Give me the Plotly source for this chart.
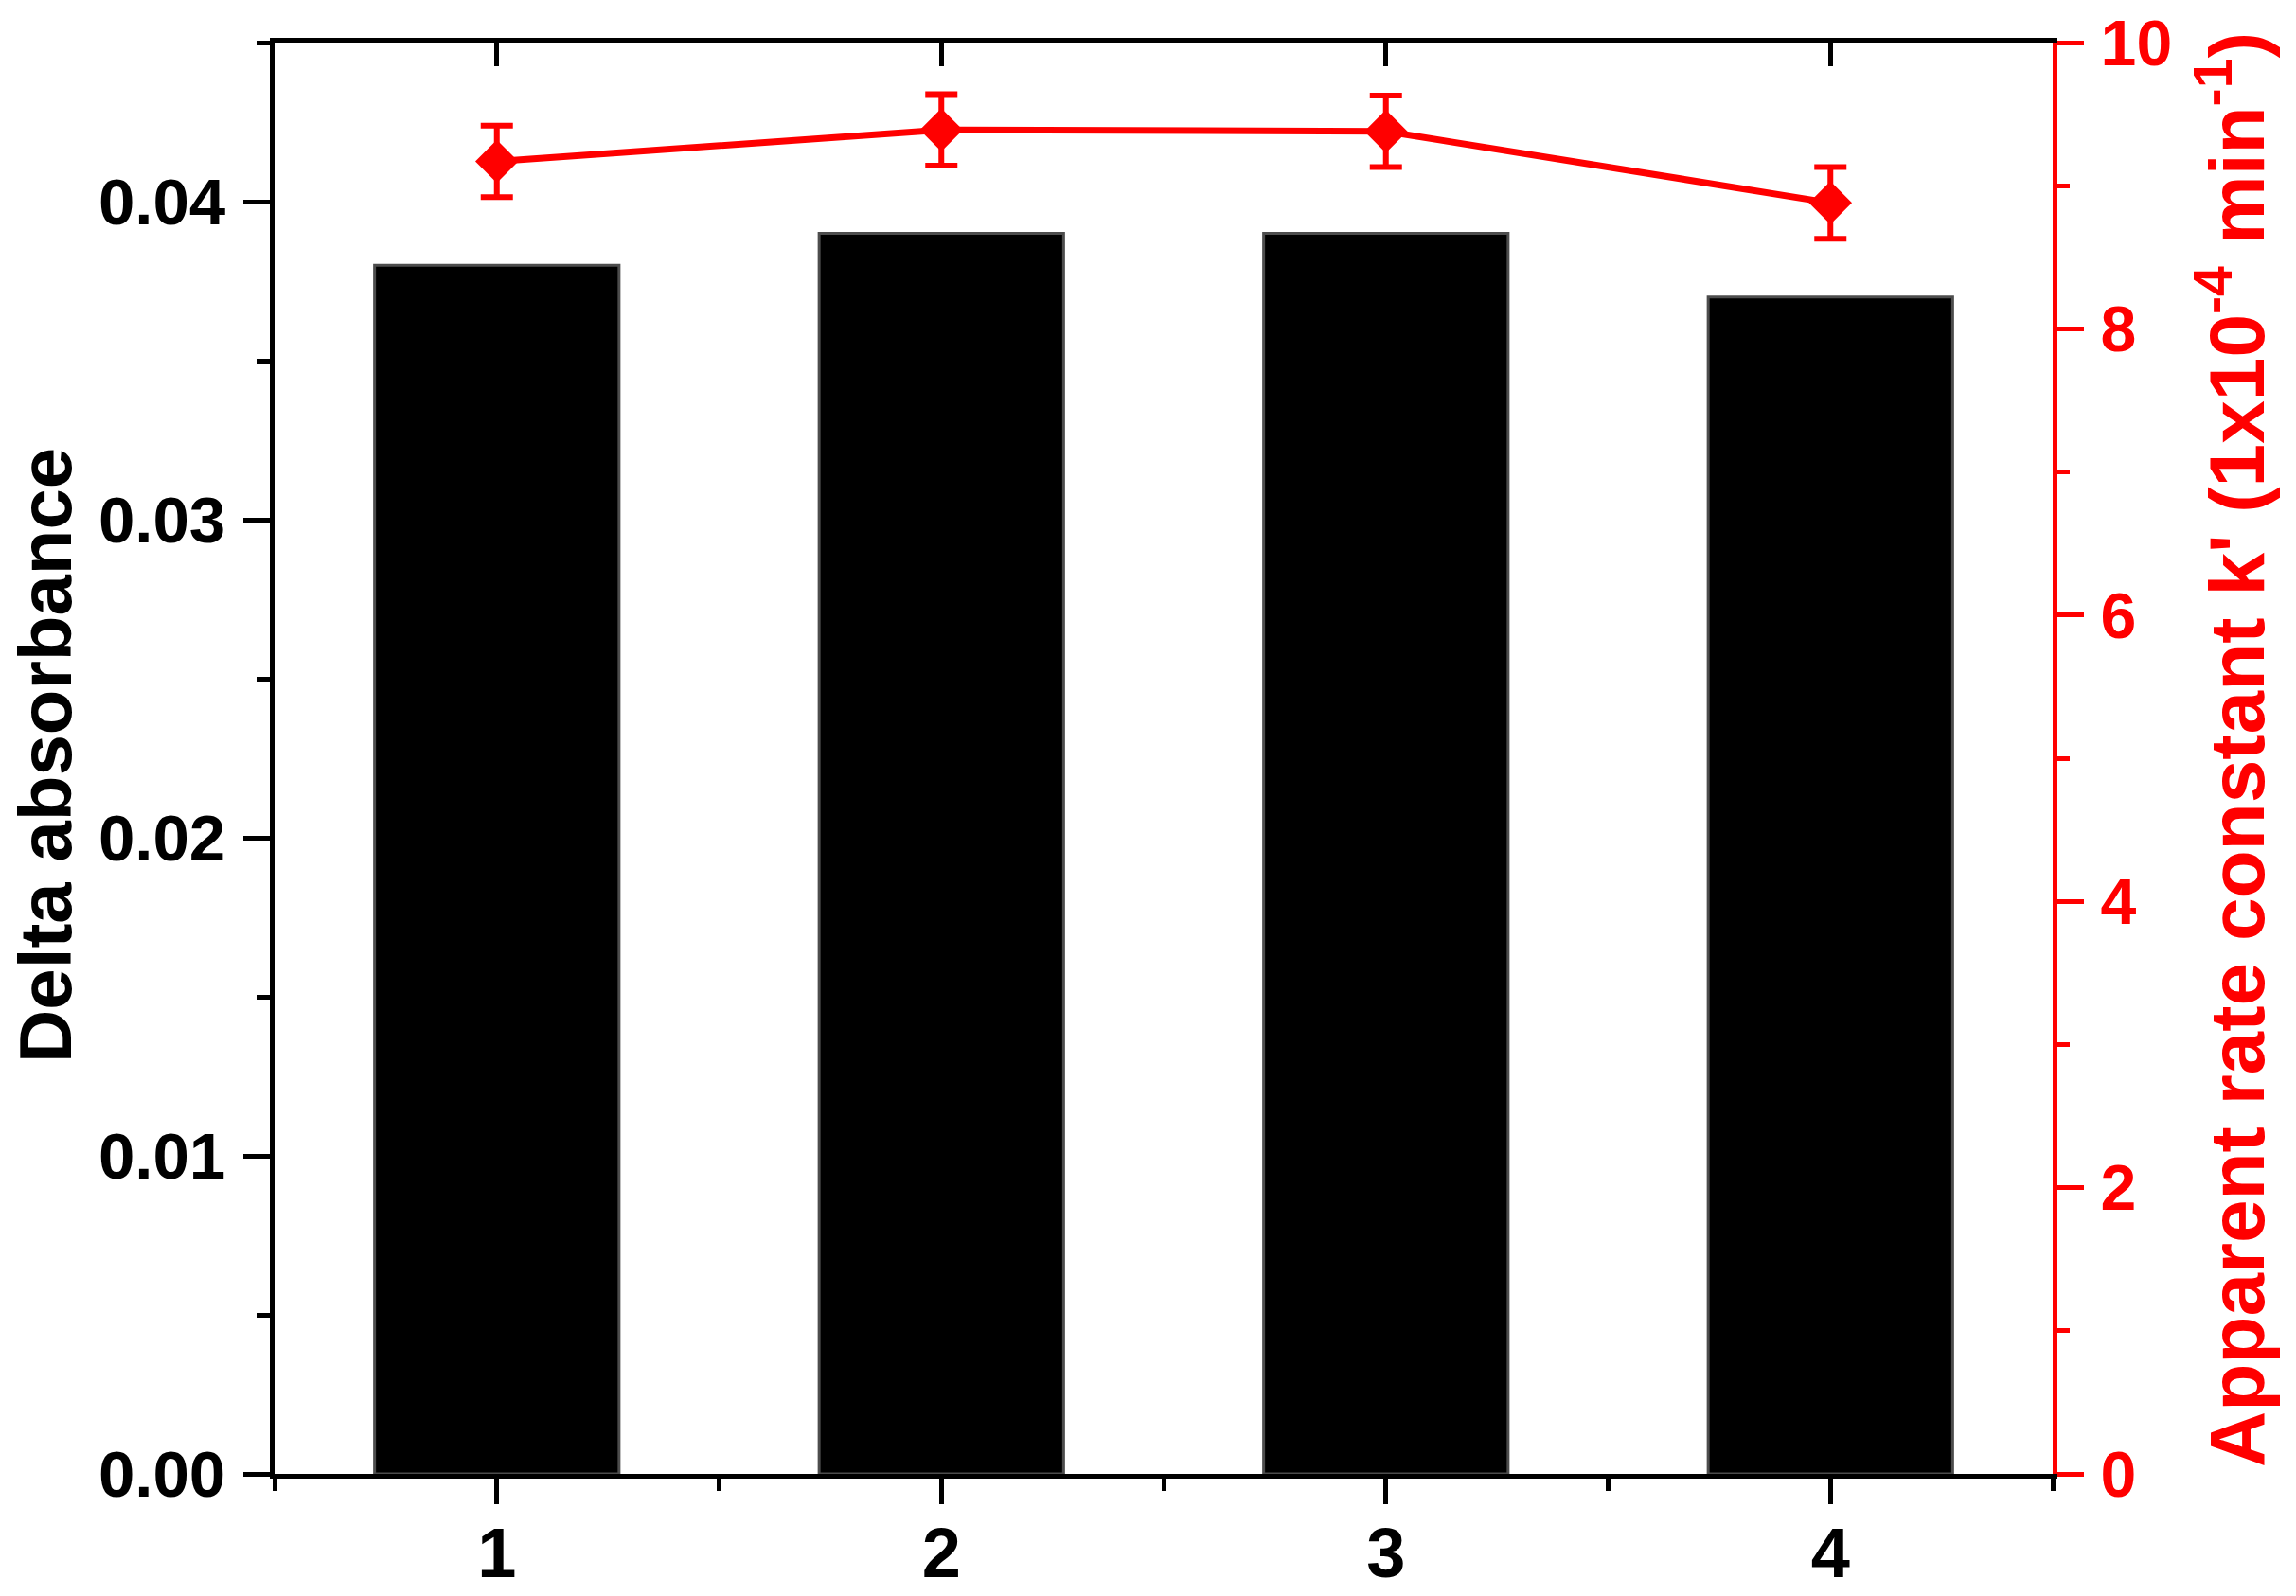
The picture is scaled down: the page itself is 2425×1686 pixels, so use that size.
import plotly.graph_objects as go

# Data
samples = [1, 2, 3, 4]
sample_labels = ["1", "2", "3", "4"]
delta_absorbance = [0.038, 0.039, 0.039, 0.037]
rate_constant = [9.17, 9.39, 9.38, 8.88]
rate_error = [0.25, 0.25, 0.25, 0.25]

left_ticks = [0.0, 0.01, 0.02, 0.03, 0.04]
right_ticks = [0, 2, 4, 6, 8, 10]

W, H = 2425, 1686
L, R, T, B = 290, 2168, 45, 1557

FONT = "Liberation Sans"
RED = "#ff0000"

fig = go.Figure()

fig.add_trace(go.Bar(
    x=samples, y=delta_absorbance, width=0.55,
    marker=dict(color="black", line=dict(color="#4d4d4d", width=3)),
    xaxis="x", yaxis="y", showlegend=False,
))

fig.add_trace(go.Scatter(
    x=samples, y=rate_constant, mode="lines+markers",
    line=dict(color=RED, width=7),
    marker=dict(symbol="diamond", size=35, color=RED),
    error_y=dict(type="data", array=rate_error, visible=True,
                 color=RED, thickness=6, width=17),
    xaxis="x2", yaxis="y2", showlegend=False,
))

fig.update_layout(
    template="none",
    width=W, height=H,
    margin=dict(l=L, r=W - R, t=T, b=H - B, pad=0, autoexpand=False),
    paper_bgcolor="white", plot_bgcolor="white",
    font=dict(family=FONT, color="black"),
    xaxis=dict(
        automargin=False,
        range=[0.5, 4.5], tickmode="array", tickvals=samples, ticktext=sample_labels,
        ticks="outside", ticklen=27, tickwidth=5, tickcolor="black",
        showline=True, linewidth=5, linecolor="black", showgrid=False, zeroline=False,
        tickfont=dict(family=FONT, size=74, weight="bold", color="black"),
        minor=dict(tickmode="array", tickvals=[0.5, 1.5, 2.5, 3.5, 4.5],
                   ticks="outside", ticklen=13, tickwidth=5, tickcolor="black", showgrid=False),
        ticklabelstandoff=-12,
    ),
    xaxis2=dict(
        automargin=False,
        range=[0.5, 4.5], overlaying="x", side="top", anchor="y2",
        tickmode="array", tickvals=samples, ticks="inside", ticklen=25, tickwidth=5,
        tickcolor="black", showticklabels=False,
        showline=True, linewidth=5, linecolor="black", showgrid=False, zeroline=False,
    ),
    yaxis=dict(
        automargin=False,
        range=[0, 0.045], tickmode="array", tickvals=left_ticks,
        ticktext=["%.2f" % v for v in left_ticks],
        ticks="outside", ticklen=28, tickwidth=5, tickcolor="black",
        showline=True, linewidth=5, linecolor="black", showgrid=False, zeroline=False,
        tickfont=dict(family=FONT, size=69, weight="bold", color="black"),
        minor=dict(tickmode="array", tickvals=[0.005, 0.015, 0.025, 0.035, 0.045],
                   ticks="outside", ticklen=14, tickwidth=5, tickcolor="black", showgrid=False),
        ticklabelstandoff=5,
    ),
    yaxis2=dict(
        automargin=False,
        range=[0, 10], overlaying="y", side="right", anchor="x2",
        tickmode="array", tickvals=right_ticks,
        ticks="outside", ticklen=28, tickwidth=5, tickcolor=RED,
        showline=True, linewidth=5, linecolor=RED, showgrid=False, zeroline=False,
        tickfont=dict(family=FONT, size=68, weight="bold", color=RED),
        minor=dict(tickmode="array", tickvals=[1, 3, 5, 7, 9],
                   ticks="outside", ticklen=13, tickwidth=5, tickcolor=RED, showgrid=False),
        ticklabelstandoff=4, ticklabeloverflow="allow",
    ),
)

pw = R - L
ph = B - T
fig.add_annotation(
    text="<b>Delta absorbance</b>", textangle=-90,
    xref="paper", yref="paper",
    x=(48 - L) / pw, y=(B - 798) / ph, xanchor="center", yanchor="middle",
    showarrow=False, font=dict(family=FONT, size=78, color="black"),
)
fig.add_annotation(
    text="<b>Apparent rate constant k' (1x10<sup>-4</sup> min<sup>-1</sup>)</b>", textangle=-90,
    xref="paper", yref="paper",
    x=(2356 - L) / pw, y=(B - 792) / ph, xanchor="center", yanchor="middle",
    showarrow=False, font=dict(family=FONT, size=82, color=RED),
)

fig.write_html(
    "out.html",
    config={"displayModeBar": False},
    post_script="document.body.style.margin='0px';document.body.style.overflow='hidden';",
)
